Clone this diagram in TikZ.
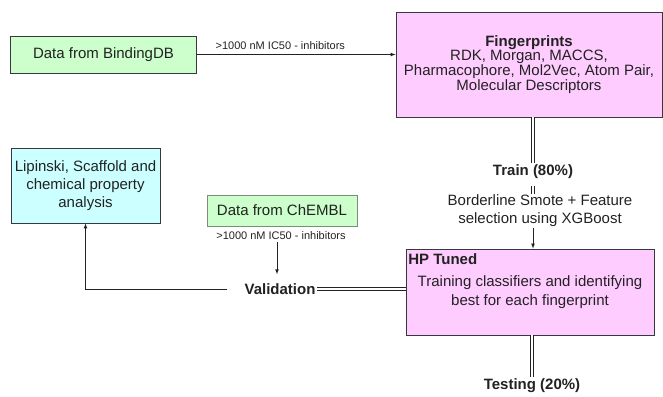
\documentclass[tikz,border=0pt]{standalone}
\usepackage{fontspec}
\setmainfont{Liberation Sans}
\usetikzlibrary{calc}

\definecolor{greenfill}{HTML}{CCFFCC}
\definecolor{pinkfill}{HTML}{FFCCFF}
\definecolor{cyanfill}{HTML}{CCFFFF}
\definecolor{boxline}{HTML}{36393D}
\definecolor{chemblline}{HTML}{7E8B78}
\definecolor{txt}{HTML}{222222}

\tikzset{
    box/.style={draw=boxline, line width=0.8pt, align=center, text=txt, inner sep=0pt,
        font=\fontsize{15}{18}\selectfont},
    plain/.style={align=center, text=txt, inner sep=2pt, font=\fontsize{15}{18}\selectfont},
    bold/.style={plain, font=\fontsize{15}{18}\selectfont\bfseries},
    small/.style={text=txt, inner sep=2pt, font=\fontsize{11}{12}\selectfont},
    dbl/.style={draw=txt, line width=3.4pt, postaction={draw=white, line width=1.6pt}},
    arr/.style={draw=txt, line width=0.7pt, -latex}
}

\begin{document}
\begin{tikzpicture}[x=1pt, y=-1pt]
            \useasboundingbox (0,0) rectangle (663,396);

            \node[box, fill=greenfill, minimum width=186pt, minimum height=37pt] (bdb) at (103.5,54.5) {Data from BindingDB};

            \node[box, fill=pinkfill, minimum width=266pt, minimum height=105pt, font=\fontsize{15}{14.8}\selectfont] (fp) at (529,64.5)
                {\textbf{Fingerprints}\\RDK, Morgan, MACCS,\\Pharmacophore, Mol2Vec, Atom Pair,\\Molecular Descriptors};

            \draw[arr] (bdb.east) -- node[small, above=3pt, pos=0.42] (toplbl) {>1000 nM IC50 - inhibitors} (bdb.east -| fp.west);

            \node[bold] (train) at (533,172) {Train (80\%)};
            \draw[dbl] (fp.south -| train) -- (train.north);

            \node[plain, inner sep=1pt] (smote) at (540,211) {Borderline Smote + Feature\\selection using XGBoost};
            \draw[dbl] ([yshift=-5pt]train.south) -- (train.south |- smote.north);

            \node[box, fill=pinkfill, minimum width=248pt, minimum height=86pt, font=\fontsize{15}{19.5}\selectfont] (hp) at (530,292)
                {Training classifiers and identifying\\best for each fingerprint};
            \node[bold, anchor=west, inner sep=0pt] (hptitle) at ($(hp.north west)+(2.5,11)$) {HP Tuned};

            \draw[arr] (smote.south -| train) -- (train |- hp.north);

            \node[bold] (test) at (532,386) {Testing (20\%)};
            \draw[dbl] (hp.south -| test) -- (test.north);

            \node[box, fill=cyanfill, minimum width=149pt, minimum height=75pt] (lip) at (85.5,185.5)
                {Lipinski, Scaffold and\\chemical property\\analysis};

            \node[box, draw=chemblline, fill=greenfill, minimum width=150pt, minimum height=31pt] (chembl) at (282,210.5) {Data from ChEMBL};
            \node[small] (chlbl) at (281,236) {>1000 nM IC50 - inhibitors};

            \node[bold, inner sep=1pt] (valid) at (280,289) {Validation};
            \draw[arr] (chlbl.south -| 277,0) -- ([yshift=8pt]valid.north -| 277,0);
            \draw[dbl] (valid.east) -- (valid.east -| hp.west);
            \draw[arr] ([xshift=-16pt]valid.west) -| (lip.south);

        \end{tikzpicture}
\end{document}
